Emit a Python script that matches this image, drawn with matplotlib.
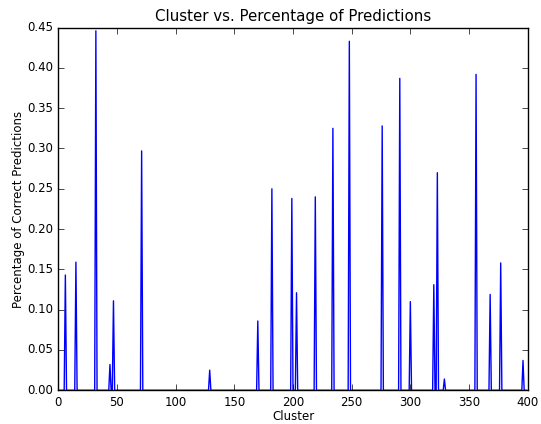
import matplotlib
matplotlib.use('Agg')
import matplotlib.pyplot as plt
import numpy as np

plt.style.use('classic')

# clusters with a non-zero share of correct predictions (everything else is 0)
n_clusters = 400
spike_clusters = [6, 15, 32, 44, 47, 71, 129, 170, 182, 199, 203, 219, 234,
                  248, 276, 291, 300, 320, 323, 329, 356, 368, 377, 396]
spike_values = [0.143, 0.159, 0.446, 0.032, 0.111, 0.297, 0.025, 0.086,
                0.250, 0.238, 0.121, 0.240, 0.325, 0.433, 0.328, 0.387,
                0.110, 0.131, 0.270, 0.014, 0.392, 0.119, 0.158, 0.037]

clusters = np.arange(n_clusters)
pct = np.zeros(n_clusters)
pct[spike_clusters] = spike_values

fig = plt.figure(figsize=(5.41, 4.24), dpi=100, facecolor='white')
ax = fig.add_axes([0.1078, 0.0795, 0.8676, 0.8554])

ax.plot(clusters, pct, 'b-', linewidth=1.0)

ax.set_xlim(0, 400)
ax.set_ylim(0, 0.45)
ax.set_yticks(np.arange(0, 0.451, 0.05))
ax.set_yticklabels(['%.2f' % v for v in np.arange(0, 0.451, 0.05)])
ax.tick_params(labelsize=8.5)

ax.set_title('Cluster vs. Percentage of Predictions', fontsize=10.8)
ax.set_xlabel('Cluster', fontsize=8.5, labelpad=1)
ax.set_ylabel('Percentage of Correct Predictions', fontsize=8.5, labelpad=1.5)

fig.savefig('out.png', dpi=100, facecolor='white')
